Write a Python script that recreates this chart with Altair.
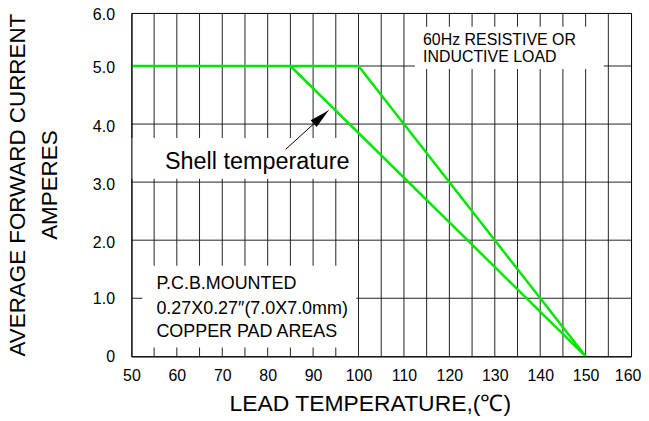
import altair as alt
import pandas as pd

# ---- data ----
x_ticks = [50, 60, 70, 80, 90, 100, 110, 120, 130, 140, 150, 160]
y_ticks = [0, 1, 2, 3, 4, 5, 6]
x_grid = [55, 60, 65, 70, 75, 80, 85, 90, 95, 100, 105, 110, 115, 120, 125, 130, 135, 140, 145, 150, 155]
y_grid = [1, 2, 3, 4, 5]

curve_a_temp = [50, 100, 150]
curve_a_amp = [5.0, 5.0, 0.0]
curve_b_temp = [85, 150]
curve_b_amp = [5.0, 0.0]

# annotation backgrounds (data coordinates)
box_x1 = [50, 52.4, 112.4]
box_x2 = [99.5, 99.5, 154.0]
box_y1 = [3.06, 0.15, 4.95]
box_y2 = [3.76, 1.56, 5.74]

# arrow (data coordinates)
arrow_x = [83.96]
arrow_y = [3.565]
arrow_x2 = [93.4]
arrow_y2 = [4.234]

ann_text = ["Shell temperature"]
ann_x = [77.7]
ann_y = [3.23]

pcb_text = ["P.C.B.MOUNTED", "0.27X0.27\u2033(7.0X7.0mm)", "COPPER PAD AREAS"]
pcb_x = [55.5, 55.5, 55.5]
pcb_y = [1.16, 0.737, 0.326]

load_text = ["60Hz RESISTIVE OR", "INDUCTIVE LOAD"]
load_x = [114.2, 114.2]
load_y = [5.40, 5.08]

FONT = "Liberation Sans"
GREEN = "#00e600"
GRID = "#222222"

xs = alt.Scale(domain=[50, 160], nice=False)
ys = alt.Scale(domain=[0, 5, 6], range=[345, 53.3, 0], nice=False)

xaxis = alt.Axis(values=x_ticks, title="LEAD TEMPERATURE,(\u2103)", grid=False, ticks=False,
                 labelPadding=11, labelFontSize=16, labelFont=FONT, labelColor="black",
                 labelOffset={"condition": {"test": "datum.value == 160", "value": -3.5}, "value": 0},
                 titleFont=FONT, titleFontSize=23, titleFontWeight="normal", titleColor="black",
                 titleX=239.5, titleY=54, titleBaseline="alphabetic", titleAlign="center",
                 domainColor="black", zindex=1, labelFlush=False)
yaxis = alt.Axis(values=y_ticks, title=["AVERAGE FORWARD CURRENT", "AMPERES"], grid=False, ticks=False,
                 labelPadding=17, labelFontSize=16, labelFont=FONT, labelColor="black",
                 labelOffset={"condition": {"test": "datum.value >= 2", "value": 2}, "value": 0},
                 labelExpr="datum.value == 0 ? '0' : format(datum.value, '.1f')",
                 titleFont=FONT, titleFontSize=22.5, titleFontWeight="normal", titleColor="black",
                 titleLineHeight=32, titleX=-114, titleY=172.5, titleBaseline="middle", titleAlign="center",
                 domainColor="black", zindex=1, labelFlush=False)

vgrid = alt.Chart(pd.DataFrame({"t": x_grid})).mark_rule(color=GRID, strokeWidth=1).encode(
    x=alt.X("t:Q", scale=xs, axis=xaxis))
hgrid = alt.Chart(pd.DataFrame({"a": y_grid})).mark_rule(color=GRID, strokeWidth=1).encode(
    y=alt.Y("a:Q", scale=ys, axis=yaxis))

boxes = alt.Chart(pd.DataFrame({"x1": box_x1, "x2": box_x2, "y1": box_y1, "y2": box_y2})).mark_rect(
    color="white").encode(x=alt.X("x1:Q", scale=xs), x2="x2:Q",
                          y=alt.Y("y1:Q", scale=ys), y2="y2:Q")

curves = pd.concat([
    pd.DataFrame({"t": curve_a_temp, "a": curve_a_amp, "s": "A"}),
    pd.DataFrame({"t": curve_b_temp, "a": curve_b_amp, "s": "B"}),
])
lines = alt.Chart(curves).mark_line(color=GREEN, strokeWidth=2.5).encode(
    x=alt.X("t:Q", scale=xs), y=alt.Y("a:Q", scale=ys), detail="s:N")

arrow_df = pd.DataFrame({"x": arrow_x, "y": arrow_y, "x2": arrow_x2, "y2": arrow_y2})
shaft = alt.Chart(arrow_df).mark_rule(color="black", strokeWidth=1).encode(
    x=alt.X("x:Q", scale=xs), y=alt.Y("y:Q", scale=ys), x2="x2:Q", y2="y2:Q")
head = alt.Chart(arrow_df).mark_point(
    shape="M0,0 L-0.45,2 L0.45,2 Z", filled=True, color="black", opacity=1, size=400, angle=48.5,
    strokeWidth=0).encode(x=alt.X("x2:Q", scale=xs), y=alt.Y("y2:Q", scale=ys))

shell = alt.Chart(pd.DataFrame({"x": ann_x, "y": ann_y, "t": ann_text})).mark_text(
    font=FONT, fontSize=23.5, align="center", baseline="alphabetic", color="black").encode(
    x=alt.X("x:Q", scale=xs), y=alt.Y("y:Q", scale=ys), text="t:N")
pcb = alt.Chart(pd.DataFrame({"x": pcb_x, "y": pcb_y, "t": pcb_text})).mark_text(
    font=FONT, fontSize=18, align="left", baseline="alphabetic", color="black").encode(
    x=alt.X("x:Q", scale=xs), y=alt.Y("y:Q", scale=ys), text="t:N")
load = alt.Chart(pd.DataFrame({"x": load_x, "y": load_y, "t": load_text})).mark_text(
    font=FONT, fontSize=16, align="left", baseline="alphabetic", color="black").encode(
    x=alt.X("x:Q", scale=xs), y=alt.Y("y:Q", scale=ys), text="t:N")

chart = alt.layer(vgrid, hgrid, boxes, lines, shaft, head, shell, pcb, load).properties(
    width=502, height=345,
    autosize=alt.AutoSizeParams(type="none"),
    padding={"left": 124, "top": 4, "right": 10, "bottom": 59},
    background="white",
).configure_view(stroke="black", strokeWidth=1)

chart.save("out.html", embed_options={"renderer": "svg", "actions": False})
